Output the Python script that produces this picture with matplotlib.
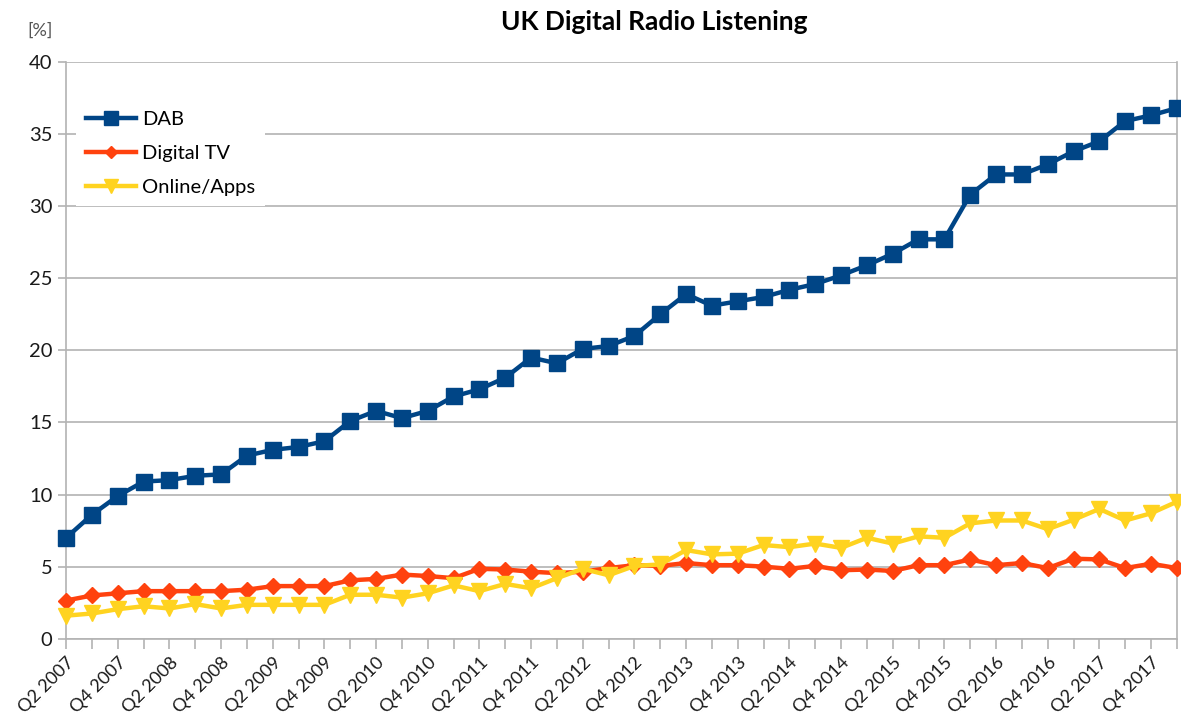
import matplotlib
matplotlib.use("Agg")
import matplotlib.pyplot as plt
import numpy as np

# quarterly survey points, Q2 2007 .. Q1 2018
quarters = [f"Q{(q % 4) + 1} {2007 + q // 4}" for q in range(1, 45)]

dab = [7.0, 8.6, 9.9, 10.9, 11.0, 11.3, 11.4, 12.7, 13.1, 13.3,
       13.7, 15.1, 15.8, 15.3, 15.8, 16.8, 17.3, 18.1, 19.5, 19.1,
       20.1, 20.3, 21.0, 22.5, 23.9, 23.1, 23.4, 23.7, 24.2, 24.6,
       25.2, 25.9, 26.7, 27.7, 27.7, 30.8, 32.2, 32.2, 32.9, 33.8,
       34.5, 35.9, 36.3, 36.8]
digital_tv = [2.65, 3.0, 3.15, 3.3, 3.3, 3.3, 3.3, 3.4, 3.65, 3.65,
              3.65, 4.05, 4.15, 4.45, 4.35, 4.2, 4.85, 4.8, 4.65, 4.55,
              4.65, 4.9, 5.1, 5.05, 5.25, 5.1, 5.1, 5.0, 4.85, 5.05,
              4.75, 4.8, 4.7, 5.1, 5.1, 5.5, 5.1, 5.25, 4.9, 5.55,
              5.5, 4.9, 5.2, 4.9]
online = [1.6, 1.75, 2.05, 2.25, 2.1, 2.4, 2.1, 2.35, 2.35, 2.35,
          2.35, 3.05, 3.05, 2.85, 3.15, 3.7, 3.3, 3.8, 3.5, 4.2,
          4.85, 4.4, 5.05, 5.15, 6.15, 5.85, 5.9, 6.5, 6.35, 6.6,
          6.3, 7.0, 6.6, 7.1, 7.0, 8.0, 8.2, 8.2, 7.6, 8.25,
          9.0, 8.2, 8.7, 9.5]

plt.rcParams["font.family"] = ["Lato", "DejaVu Sans"]

fig = plt.figure(figsize=(11.81, 7.25), dpi=100)
ax = fig.add_axes([0.056, 0.119, 0.9405, 0.7955])

x = np.arange(len(quarters))
grey = "#b3b3b3"

ax.plot(x, dab, color="#004586", lw=3.2, marker="s", ms=12,
        label="DAB", clip_on=False, zorder=3)
ax.plot(x, digital_tv, color="#ff420e", lw=3.2, marker="D", ms=8,
        label="Digital TV", clip_on=False, zorder=3)
ax.plot(x, online, color="#ffd320", lw=3.2, marker="v", ms=12,
        label="Online/Apps", clip_on=False, zorder=3)

ax.set_xlim(0, len(quarters) - 1)
ax.set_ylim(0, 40)
ax.set_yticks(np.arange(0, 41, 5))
ax.grid(axis="y", color=grey, lw=1.2)
ax.set_axisbelow(True)

ax.set_xticks(x)
ax.set_xticklabels([q if i % 2 == 0 else "" for i, q in enumerate(quarters)],
                   rotation=45, ha="right", rotation_mode="anchor")
ax.tick_params(axis="x", length=7, color=grey, width=1.2, labelsize=13,
               pad=4, labelcolor="#1a1a1a")
ax.tick_params(axis="y", length=6, color=grey, width=1.2, labelsize=14.5,
               pad=4, labelcolor="#1a1a1a")

for side in ["left", "bottom", "right"]:
    ax.spines[side].set_color(grey)
    ax.spines[side].set_linewidth(1.2)
ax.spines["top"].set_visible(False)

leg = ax.legend(loc="upper left", bbox_to_anchor=(0.0085, 0.933),
                borderaxespad=0, frameon=True, fancybox=False,
                facecolor="white", edgecolor="none", framealpha=1,
                fontsize=14.5, handlelength=2.5, handletextpad=0.3,
                labelspacing=0.84, borderpad=0.5, markerscale=0.8)
leg.set_zorder(4)

fig.text(0.554, 0.970, "UK Digital Radio Listening", ha="center",
         va="center", fontsize=19, fontweight="bold")
fig.text(0.034, 0.958, "[%]", ha="center", va="center", fontsize=13,
         color="#555555")

fig.savefig("out.png", dpi=100)
